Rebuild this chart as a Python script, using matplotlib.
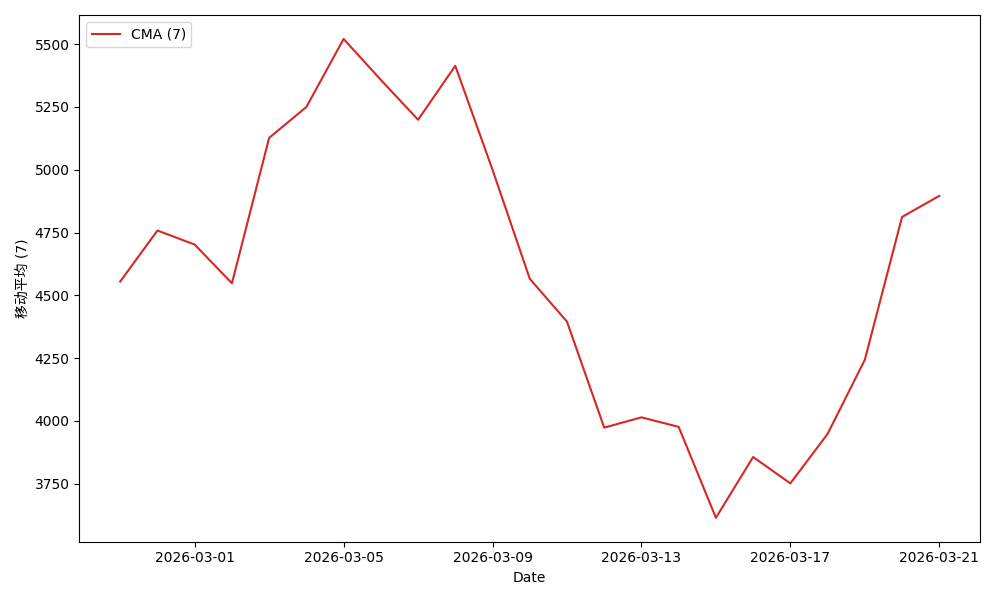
import numpy as np
import pandas as pd
import matplotlib
matplotlib.use("Agg")
import matplotlib.pyplot as plt
import matplotlib.dates as mdates

plt.rcParams['font.family'] = ['DejaVu Sans', 'Noto Sans CJK SC']

# 7-day moving average values
dates = pd.date_range("2026-02-27", "2026-03-21", freq="D")
cma = [4555, 4758, 4702, 4548, 5127, 5250, 5521, 5358, 5199, 5414,
       5000, 4566, 4395, 3973, 4014, 3976, 3614, 3856, 3751, 3948,
       4243, 4812, 4896]
label = "CMA (7)"
ylabel = "移动平均 (7)"

fig, ax = plt.subplots(figsize=(10, 6), dpi=100)
ax.plot(dates, cma, color="tab:red", label=label)

ax.xaxis.set_major_locator(mdates.DayLocator(bymonthday=[1, 5, 9, 13, 17, 21]))
ax.xaxis.set_major_formatter(mdates.DateFormatter("%Y-%m-%d"))
ax.set_xlabel("Date")
ax.set_ylabel(ylabel)
ax.legend(loc="upper left")

plt.tight_layout()
plt.savefig("out.png")
